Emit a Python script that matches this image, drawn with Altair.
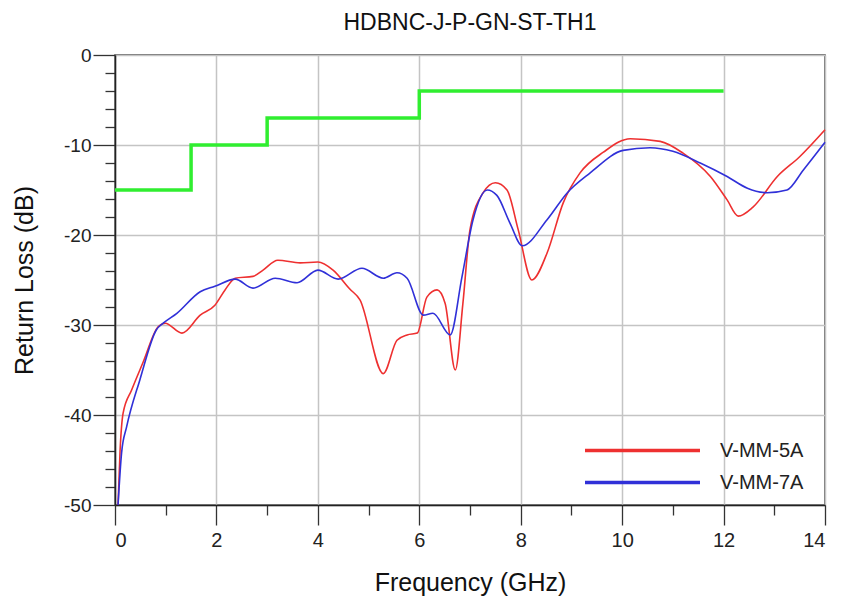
import altair as alt
import pandas as pd

# ---- data ----
red_name = "V-MM-5A"
red_x = [0.06, 0.10, 0.16, 0.33, 0.55, 0.85, 0.99, 1.32, 1.68, 1.97, 2.17, 2.37, 2.72, 2.92, 3.21,
         3.65, 4.0, 4.3, 4.63, 4.83, 5.29, 5.56, 5.76, 5.96, 6.15, 6.35, 6.51, 6.71, 6.86, 7.0,
         7.26, 7.5, 7.73, 7.95, 8.22, 8.52, 8.84, 9.17, 9.63, 10.16, 10.75, 11.2, 11.74, 12.07,
         12.29, 12.58, 13.06, 13.5, 14.0]
red_y = [-50, -44, -39.8, -37.2, -34.2, -30.2, -29.8, -30.9, -28.9, -27.8, -26.1, -24.8, -24.6, -23.9, -22.8,
         -23.1, -23.0, -23.9, -26.0, -27.2, -35.4, -31.7, -31.1, -30.9, -26.9, -26.1, -27.6, -35.0, -27.6, -19.4,
         -15.3, -14.2, -15.0, -19.4, -25.0, -22.0, -16.4, -13.1, -10.8, -9.3, -9.6, -10.9, -13.5, -16.1,
         -17.9, -16.9, -13.5, -11.3, -8.3]

blue_name = "V-MM-7A"
blue_x = [0.06, 0.13, 0.23, 0.49, 0.82, 0.95, 1.22, 1.68, 1.97, 2.37, 2.72, 3.16, 3.59, 4.0, 4.4,
          4.87, 5.29, 5.56, 5.76, 6.08, 6.27, 6.61, 6.84, 7.06, 7.34, 7.53, 7.79, 8.03, 8.52, 8.92,
          9.37, 10.02, 10.55, 11.0, 11.54, 12.07, 12.47, 12.86, 13.25, 13.57, 14.0]
blue_y = [-50, -44.2, -41.3, -36.1, -30.5, -29.8, -28.7, -26.3, -25.7, -24.9, -25.9, -24.8, -25.3, -23.9, -24.9,
          -23.7, -24.8, -24.2, -24.8, -28.9, -28.7, -31.1, -24.7, -18.3, -15.0, -15.6, -18.7, -21.2, -18.3, -15.3,
          -13.1, -10.6, -10.3, -10.7, -12.0, -13.5, -14.8, -15.3, -15.0, -12.8, -9.7]

limit_x = [0, 1.5, 3, 6, 12]
limit_y = [-15, -10, -7, -4, -4]

series_names = [red_name, blue_name]
series_colors = ["#ee3030", "#3030d8"]

x_ticks = list(range(0, 15))
y_ticks = list(range(-50, 1, 2))

curves = pd.concat([
    pd.DataFrame({"f": red_x, "rl": red_y, "s": red_name}),
    pd.DataFrame({"f": blue_x, "rl": blue_y, "s": blue_name}),
])
limit = pd.DataFrame({"f": limit_x, "rl": limit_y})

FONT = "Liberation Sans"

x_scale = alt.Scale(domain=[0, 14], nice=False, zero=False)
y_scale = alt.Scale(domain=[-50, 0], nice=False, zero=False)

x_axis = alt.Axis(
    values=x_ticks,
    tickCount=100,
    labelExpr="datum.value % 2 === 0 ? '' + datum.value : ''",
    labelOverlap=False,
    gridOpacity={"condition": {"test": "datum.value % 2 === 0", "value": 1}, "value": 0},
    tickSize={"condition": {"test": "datum.value % 2 === 0", "value": 20}, "value": 10},
    title="Frequency (GHz)",
    titlePadding=20,
    labelPadding=5,
    labelFontSize=20,
    titleFontSize=25,
)
y_axis = alt.Axis(
    values=y_ticks,
    tickCount=100,
    labelExpr="datum.value % 10 === 0 ? '' + datum.value : ''",
    labelOverlap=False,
    gridOpacity={"condition": {"test": "datum.value % 10 === 0", "value": 1}, "value": 0},
    tickSize={"condition": {"test": "datum.value % 10 === 0", "value": 22}, "value": 10},
    title="Return Loss (dB)",
    titlePadding=26,
    labelPadding=2,
    labelFontSize=19,
    titleFontSize=25,
)

lines = alt.Chart(curves).mark_line(strokeWidth=1.6, interpolate="monotone").encode(
    x=alt.X("f:Q", scale=x_scale, axis=x_axis),
    y=alt.Y("rl:Q", scale=y_scale, axis=y_axis),
    color=alt.Color(
        "s:N",
        scale=alt.Scale(domain=series_names, range=series_colors),
        legend=alt.Legend(
            title=None,
            orient="none",
            legendX=514,
            legendY=382,
            symbolType="M-5,0H5",
            symbolSize=529,
            symbolStrokeWidth=3.5,
            labelFontSize=20,
            labelOffset=64,
            rowPadding=8,
            labelColor="#222",
            labelFont=FONT,
        ),
    ),
    detail="s:N",
)

green = alt.Chart(limit).mark_line(
    color="#30ee30", strokeWidth=3.5, interpolate="step-after"
).encode(
    x=alt.X("f:Q", scale=x_scale),
    y=alt.Y("rl:Q", scale=y_scale),
)

chart = alt.layer(green, lines).properties(
    width=710,
    height=450,
    autosize=alt.AutoSizeParams(type="none"),
    padding={"left": 107, "top": 47, "right": 9, "bottom": 100},
    title=alt.TitleParams(
        "HDBNC-J-P-GN-ST-TH1", fontSize=23, font=FONT, fontWeight="normal",
        color="#111", anchor="middle", offset=11,
    ),
).configure_axis(
    labelFont=FONT,
    titleFont=FONT,
    titleFontWeight="normal",
    labelColor="#222",
    titleColor="#111",
    gridColor="#c4c4c4",
    gridWidth=1.5,
    domainColor="#222",
    domainWidth=1.5,
    tickColor="#333",
    tickWidth=1.3,
).configure_view(
    stroke="#444", strokeWidth=1.5
)

chart.save("out.html", embed_options={"renderer": "svg", "actions": False})
